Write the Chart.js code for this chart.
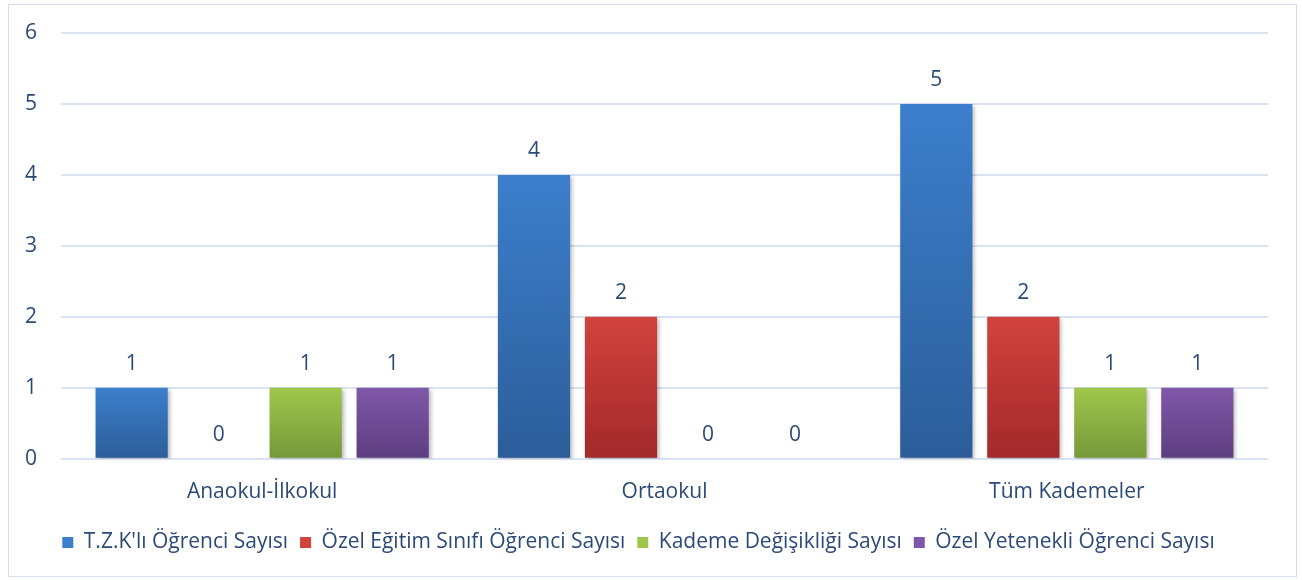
<!DOCTYPE html>
<html>
<head>
<meta charset="utf-8">
<script src="https://cdn.jsdelivr.net/npm/chart.js@4"></script>
<style>
  body { margin: 0; background: #fff; }
  #box {
    position: absolute; left: 8px; top: 4px;
    width: 1287px; height: 571px;
    border: 1px solid #d5dfee;
  }
</style>
</head>
<body>
<div id="box"><canvas id="chart-area"></canvas></div>
<script>
var categories = ['Anaokul-İlkokul', 'Ortaokul', 'Tüm Kademeler'];
var tzkValues = [1, 4, 5];
var ozelEgitimValues = [0, 2, 2];
var kademeValues = [1, 0, 1];
var yetenekliValues = [1, 0, 1];
var seriesNames = ['T.Z.K\'lı Öğrenci Sayısı', 'Özel Eğitim Sınıfı Öğrenci Sayısı', 'Kademe Değişikliği Sayısı', 'Özel Yetenekli Öğrenci Sayısı'];
var yTicks = [0, 1, 2, 3, 4, 5, 6];

var textColor = '#2c4a78';
var fontFamily = '"Open Sans", Lato, sans-serif';
var fontSize = 21;

// top / bottom colour of each bar's gradient
var colorPairs = [
    ['#3c7fcc', '#2c5d99'],
    ['#d2433e', '#a2292a'],
    ['#9fc64c', '#77983a'],
    ['#7f58a9', '#5d3e80']
];

var barGradient = function(idx) {
    return function(context) {
        var chart = context.chart;
        var pair = colorPairs[idx];
        if (!chart.chartArea || !chart.scales.y || context.raw === undefined) {
            return pair[0];
        }
        var top = chart.scales.y.getPixelForValue(context.raw);
        var bottom = chart.scales.y.getPixelForValue(0);
        if (bottom - top < 1) top = bottom - 1;
        var g = chart.ctx.createLinearGradient(0, top, 0, bottom);
        g.addColorStop(0, pair[0]);
        g.addColorStop(1, pair[1]);
        return g;
    };
};

var valueLabels = {
    id: 'valueLabels',
    beforeDatasetsDraw: function(chart) {
        var ctx = chart.ctx;
        ctx.save();
        ctx.shadowColor = 'rgba(0,0,0,0.28)';
        ctx.shadowBlur = 4;
        ctx.shadowOffsetX = 2;
        ctx.shadowOffsetY = 2;
    },
    afterDatasetsDraw: function(chart) {
        var ctx = chart.ctx;
        ctx.restore();
        ctx.save();
        ctx.font = fontSize + 'px ' + fontFamily;
        ctx.fillStyle = textColor;
        ctx.textAlign = 'center';
        ctx.textBaseline = 'middle';
        chart.data.datasets.forEach(function(ds, i) {
            var meta = chart.getDatasetMeta(i);
            meta.data.forEach(function(bar, j) {
                ctx.fillText(ds.data[j], bar.x, bar.y - 24);
            });
        });
        ctx.restore();
    }
};

var makeDataset = function(name, values, idx) {
    return {
        label: name,
        data: values,
        backgroundColor: barGradient(idx),
        borderWidth: 0,
        barPercentage: 0.83,
        categoryPercentage: 0.865
    };
};

var config = {
    type: 'bar',
    data: {
        labels: categories,
        datasets: [
            makeDataset(seriesNames[0], tzkValues, 0),
            makeDataset(seriesNames[1], ozelEgitimValues, 1),
            makeDataset(seriesNames[2], kademeValues, 2),
            makeDataset(seriesNames[3], yetenekliValues, 3)
        ]
    },
    options: {
        responsive: true,
        maintainAspectRatio: false,
        animation: false,
        layout: { padding: { top: 28, right: 28, bottom: 13, left: 0 } },
        scales: {
            x: {
                grid: { display: false },
                border: { display: false },
                afterFit: function(scale) { scale.height += 2; },
                ticks: { color: textColor, font: { size: fontSize, family: fontFamily }, padding: 13 }
            },
            y: {
                min: 0,
                max: 6,
                afterBuildTicks: function(scale) {
                    scale.ticks = yTicks.map(function(v) { return { value: v }; });
                },
                afterFit: function(scale) {
                    scale.width = 52;
                    // tick padding should not push the plot down
                    scale.paddingTop = 0;
                    scale.paddingBottom = 0;
                },
                grid: { color: '#d9e3f1', lineWidth: 2, drawTicks: false },
                border: { display: false },
                ticks: { color: textColor, font: { size: fontSize, family: fontFamily }, padding: 24 }
            }
        },
        plugins: {
            tooltip: { enabled: false },
            legend: {
                position: 'bottom',
                labels: {
                    color: textColor,
                    font: { size: fontSize, family: fontFamily },
                    boxWidth: 11,
                    boxHeight: 11,
                    padding: 12,
                    generateLabels: function(chart) {
                        return chart.data.datasets.map(function(ds, i) {
                            return {
                                text: ds.label,
                                fillStyle: colorPairs[i][0],
                                strokeStyle: colorPairs[i][0],
                                lineWidth: 0,
                                fontColor: textColor,
                                datasetIndex: i
                            };
                        });
                    }
                }
            }
        }
    },
    plugins: [valueLabels]
};

var ctx = document.getElementById('chart-area').getContext('2d');
window.myBars = new Chart(ctx, config);
</script>
</body>
</html>
